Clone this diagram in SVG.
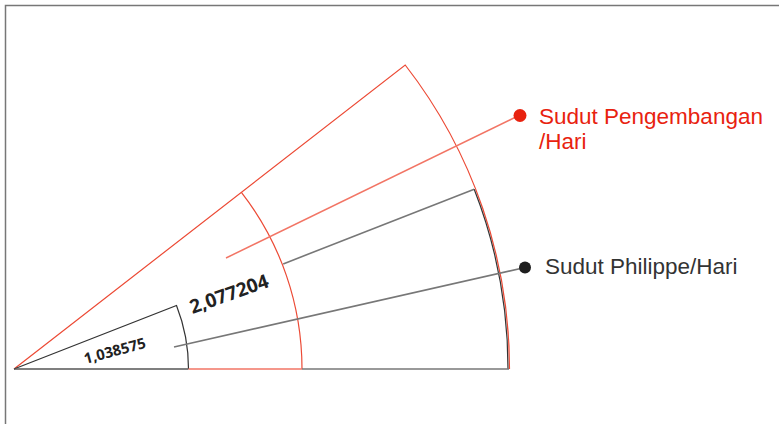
<svg xmlns="http://www.w3.org/2000/svg" width="779" height="424" viewBox="0 0 779 424">
<style>
.red{fill:none;stroke:#ec4a35;stroke-width:1.2}
.lred{fill:none;stroke:#f27565;stroke-width:1.5}
.blk{fill:none;stroke:#333;stroke-width:1.2}
.gry{fill:none;stroke:#777;stroke-width:1.6}
.num{font-family:"Open Sans","DejaVu Sans",sans-serif;font-weight:bold;fill:#222}
.lbl{font-family:"Liberation Sans",Arial,sans-serif;font-size:22.5px}
</style>
<rect width="779" height="424" fill="#fff"/>
<path d="M5.5 424 V5.5 H779" fill="none" stroke="#777" stroke-width="1.5"/>
<g id="sector-red">
<path class="red" d="M14 369 L405.2 65 A495.5 495.5 0 0 1 509.5 369"/>
<path class="red" d="M241.4 192.3 A288 288 0 0 1 302 369"/>
</g>
<g id="sector-black">
<path class="blk" d="M14 369 L176.5 305.5 A174.5 174.5 0 0 1 188.5 369"/>
<path class="gry" d="M283.2 263.9 L474.2 189.3"/>
<path class="blk" d="M474.2 189.3 A494 494 0 0 1 508 369"/>
</g>
<g id="baseline">
<path d="M14 369 H188.5" stroke="#555" stroke-width="1.6"/>
<path d="M188.5 369 H302" stroke="#f27565" stroke-width="1.6"/>
<path d="M302 369 H509" stroke="#777" stroke-width="1.6"/>
</g>
<g id="connectors">
<path class="lred" d="M226 258 L520 115"/>
<path class="gry" d="M174 347 L525 267.5"/>
</g>
<g id="node-pengembangan">
<circle cx="520" cy="115.5" r="6.5" fill="#e8220f"/>
<text class="lbl" x="539" y="123.5" fill="#e8220f">Sudut Pengembangan</text>
<text class="lbl" x="539" y="149" fill="#e8220f">/Hari</text>
</g>
<g id="node-philippe">
<circle cx="525" cy="267.5" r="6" fill="#1e1e1e"/>
<text class="lbl" x="545" y="274" fill="#333">Sudut Philippe/Hari</text>
</g>
<g id="angle-labels">
<text class="num" font-size="14.8" transform="translate(85.5,364) rotate(-15)">1,038575</text>
<text class="num" font-size="19.2" transform="translate(192.5,314) rotate(-19.5)">2,077204</text>
</g>
</svg>
